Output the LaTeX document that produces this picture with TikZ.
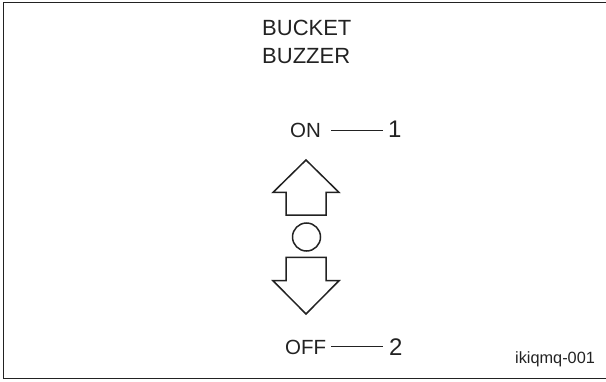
\documentclass[tikz,border=0pt]{standalone}
\usepackage{fontspec}
\setmainfont{Liberation Sans}
\definecolor{ink}{HTML}{222222}
\begin{document}
\begin{tikzpicture}[x=1bp,y=1bp,
  head/.style={inner sep=0pt,anchor=base west,text=ink,font=\fontsize{22bp}{26bp}\selectfont},
  lbl/.style={inner sep=0pt,anchor=base west,text=ink,font=\fontsize{20.5bp}{24bp}\selectfont},
  num/.style={inner sep=0pt,anchor=base west,text=ink,font=\fontsize{24bp}{28bp}\selectfont},
  tag/.style={inner sep=0pt,anchor=base west,text=ink,font=\fontsize{16.3bp}{19bp}\selectfont},
  outl/.style={draw=ink,line width=1.5bp,line join=miter,fill=white},
  leader/.style={draw=ink,line width=0.8bp}]
\useasboundingbox (0,0) rectangle (606,381);
\draw[draw=ink,line width=1.4bp] (3.5,2.3) rectangle (612,378.5);
\node[head] (t1) at (262,345.3) {BUCKET};
\node[head] (t2) at (262,317.7) {BUZZER};
\node[lbl] (on) at (290,243.7) {ON};
\node[num] (one) at (388,243.7) {1};
\node[lbl] (off) at (285,27) {OFF};
\node[num] (two) at (389,26) {2};
\node[tag] (id) at (515,18) {ikiqmq-001};
\coordinate (l1a) at (331,250.3);
\coordinate (l1b) at (383,250.3);
\coordinate (l2a) at (331,34.3);
\coordinate (l2b) at (383,34.3);
\draw[leader] (l1a) -- (l1b);
\draw[leader] (l2a) -- (l2b);
\draw[outl] (306,221) -- (339,188.6) -- (326,188.6) -- (326,166) -- (286,166) -- (286,188.6) -- (273,188.6) -- cycle;
\node[outl,circle,minimum size=28bp,inner sep=0pt] (knob) at (306.5,144) {};
\draw[outl] (306,67) -- (339,100.3) -- (326,100.3) -- (326,123.7) -- (286,123.7) -- (286,100.3) -- (273,100.3) -- cycle;
\end{tikzpicture}
\end{document}
